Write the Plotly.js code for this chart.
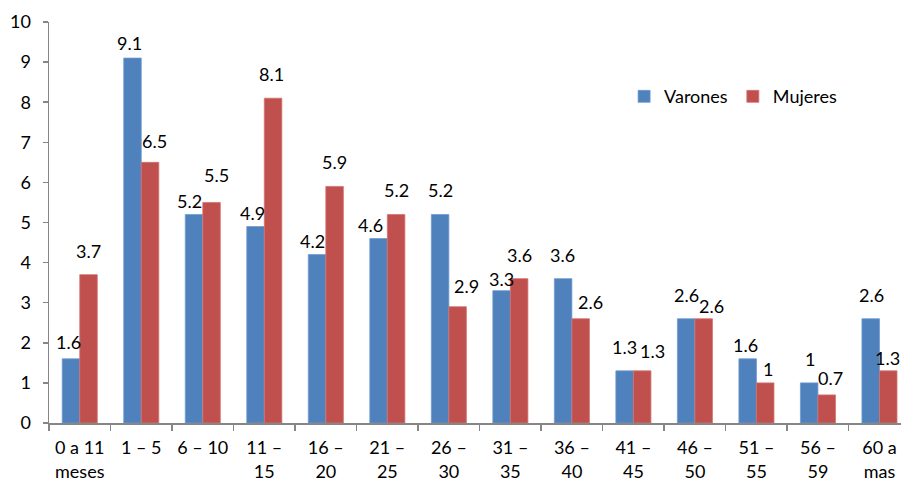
<!DOCTYPE html>
<html>
<head>
<meta charset="utf-8">
<script src="https://cdn.plot.ly/plotly-3.0.1.min.js"></script>
<style>html,body{margin:0;padding:0;background:#fff;}#chart{width:901px;height:483px;}</style>
</head>
<body>
<div id="chart"></div>
<script>
const categories = ["0 a 11<br>meses", "1 – 5", "6 – 10", "11 –<br>15", "16 –<br>20", "21 –<br>25", "26 –<br>30", "31 –<br>35", "36 –<br>40", "41 –<br>45", "46 –<br>50", "51 –<br>55", "56 –<br>59", "60 a<br>mas"];
const varones = [1.6, 9.1, 5.2, 4.9, 4.2, 4.6, 5.2, 3.3, 3.6, 1.3, 2.6, 1.6, 1, 2.6];
const mujeres = [3.7, 6.5, 5.5, 8.1, 5.9, 5.2, 2.9, 3.6, 2.6, 1.3, 2.6, 1, 0.7, 1.3];
const yTicks = [0,1,2,3,4,5,6,7,8,9,10];

// label nudges in pixels [dx, down] (style only, as laid out in the reference)
const nudgeVarones = [[-2,7],[-3,9],[-5,11],[-3,10],[-5,10],[-8,10],[0,0],[0,12],[-1,0],[0,0],[0,0],[-2,10],[1,0],[1,0]];
const nudgeMujeres = [[0,0],[4,3],[5,-3],[-2,0],[0,0],[0,0],[9,3],[0,0],[10,7],[10,4],[8,11],[3,10],[4,7],[-1,11]];

const font = "Lato, 'Open Sans', sans-serif";
const FS = 18;
const mk = (name, vals, color, line) => ({
  type: 'bar', name: name, x: categories, y: vals,
  marker: {color: color, line: {color: line, width: 0.8}},
  hoverinfo: 'skip'
});
const data = [
  mk('Varones', varones, '#4F81BD', '#6f9ad0'),
  mk('Mujeres', mujeres, '#C0504D', '#d27370')
];
const half = 61.5 * (1 - 0.43) / 4;
const baseShift = 11;
const annotations = [];
[[varones, -half, nudgeVarones], [mujeres, half, nudgeMujeres]].forEach(([vals, dx, nudge]) => {
  vals.forEach((v, i) => {
    annotations.push({
      x: categories[i], y: v, xref: 'x', yref: 'y', text: String(v),
      showarrow: false, xanchor: 'center', yanchor: 'bottom',
      xshift: dx + nudge[i][0], yshift: baseShift - nudge[i][1],
      font: {family: font, size: FS, color: '#000'}
    });
  });
});
const layout = {
  width: 901, height: 483,
  margin: {l: 49, r: 0, t: 22, b: 60},
  paper_bgcolor: '#fff', plot_bgcolor: '#fff',
  barmode: 'group', bargap: 0.43, bargroupgap: 0,
  font: {family: font, size: FS, color: '#000'},
  showlegend: true,
  legend: {orientation: 'h', x: 0.675, y: 0.86, xanchor: 'left', yanchor: 'top',
    font: {family: font, size: FS, color: '#000'}, bgcolor: 'rgba(0,0,0,0)', itemwidth: 30, tracegroupgap: 0},
  annotations: annotations,
  xaxis: {
    type: 'category', range: [-0.5, 13.35], fixedrange: true,
    showline: true, linecolor: '#868686', linewidth: 1.5,
    ticks: 'outside', tickson: 'boundaries', ticklen: 6, tickcolor: '#868686', tickwidth: 1.5,
    ticklabelstandoff: 8,
    showgrid: false, zeroline: false,
    tickfont: {family: font, size: FS, color: '#000'}, tickangle: 0
  },
  yaxis: {
    range: [0, 10], tickvals: yTicks, ticktext: yTicks.map(String),
    showline: true, linecolor: '#868686', linewidth: 1.5,
    ticks: 'outside', ticklen: 5, tickcolor: '#868686', tickwidth: 1.5,
    ticklabelstandoff: 8,
    showgrid: false, zeroline: false,
    tickfont: {family: font, size: FS, color: '#000'}
  }
};
Plotly.newPlot('chart', data, layout, {staticPlot: true, displayModeBar: false});
</script>
</body>
</html>
